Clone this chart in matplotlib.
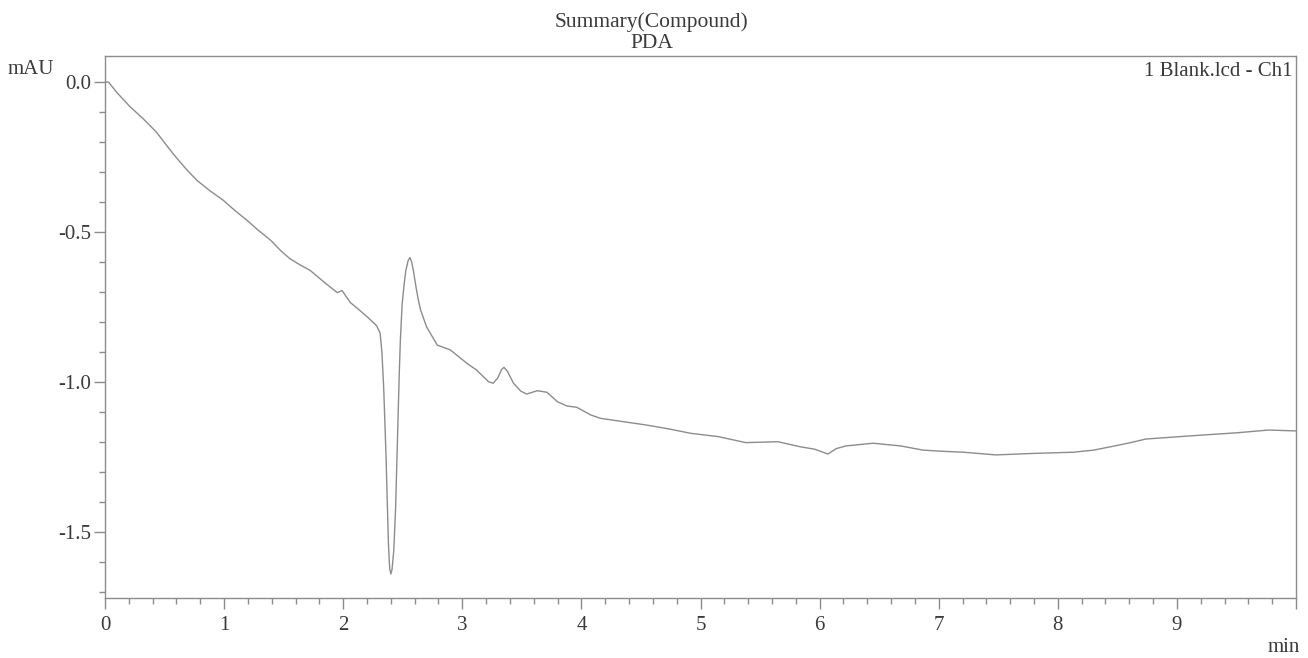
import numpy as np
import matplotlib.pyplot as plt
from matplotlib.ticker import MultipleLocator

# Chromatogram trace (time in min, absorbance in mAU)
time_min = [0.00, 0.03, 0.10, 0.21, 0.32, 0.43, 0.57, 0.67, 0.77, 0.88, 0.99,
            1.09, 1.19, 1.29, 1.39, 1.47, 1.55, 1.64, 1.72, 1.84, 1.95, 1.99,
            2.02, 2.06, 2.13, 2.20, 2.28, 2.31, 2.325, 2.34, 2.36, 2.37, 2.38,
            2.39, 2.40, 2.41, 2.425, 2.44, 2.455, 2.47, 2.48, 2.495, 2.51,
            2.525, 2.545, 2.56, 2.575, 2.59, 2.61, 2.63, 2.65, 2.70, 2.79,
            2.90, 3.04, 3.12, 3.22, 3.26, 3.30, 3.33, 3.35, 3.38, 3.43, 3.49,
            3.54, 3.63, 3.71, 3.80, 3.88, 3.96, 4.08, 4.16, 4.35, 4.54, 4.73,
            4.92, 5.15, 5.38, 5.65, 5.84, 5.96, 6.07, 6.14, 6.22, 6.45, 6.68,
            6.87, 7.04, 7.21, 7.48, 7.79, 8.13, 8.30, 8.44, 8.60, 8.74, 9.13,
            9.51, 9.77, 10.0]
absorbance = [0.000, 0.000, -0.035, -0.082, -0.122, -0.166, -0.238, -0.285,
              -0.327, -0.362, -0.393, -0.428, -0.460, -0.495, -0.527, -0.560,
              -0.588, -0.610, -0.627, -0.667, -0.702, -0.695, -0.712, -0.735,
              -0.758, -0.782, -0.812, -0.837, -0.900, -1.020, -1.250, -1.400,
              -1.540, -1.620, -1.640, -1.625, -1.560, -1.420, -1.200, -0.980,
              -0.860, -0.740, -0.680, -0.630, -0.595, -0.585, -0.600, -0.630,
              -0.680, -0.725, -0.760, -0.816, -0.877, -0.893, -0.938, -0.960,
              -0.999, -1.004, -0.985, -0.958, -0.951, -0.965, -1.004, -1.030,
              -1.040, -1.029, -1.034, -1.066, -1.080, -1.084, -1.110, -1.121,
              -1.132, -1.143, -1.156, -1.171, -1.182, -1.202, -1.199, -1.216,
              -1.224, -1.240, -1.222, -1.213, -1.204, -1.213, -1.227, -1.231,
              -1.234, -1.243, -1.238, -1.234, -1.227, -1.216, -1.203, -1.190,
              -1.179, -1.169, -1.160, -1.163]

x_major = [0, 1, 2, 3, 4, 5, 6, 7, 8, 9, 10]
x_labels = ['0', '1', '2', '3', '4', '5', '6', '7', '8', '9', '']
y_major = [0.0, -0.5, -1.0, -1.5]
y_labels = ['0.0', '-0.5', '-1.0', '-1.5']

plt.rcParams['font.family'] = ['Liberation Serif', 'DejaVu Serif']
gray = '#8c8c8c'
txt = '#3a3a3a'

fig = plt.figure(figsize=(13.08, 6.58), dpi=100)
ax = fig.add_axes([105 / 1308, 1 - 598 / 658, 1191 / 1308, 542 / 658])
ax.plot(time_min, absorbance, color=gray, linewidth=1.0)

ax.set_xlim(0, 10)
ax.set_ylim(-1.72, 0.087)
ax.set_xticks(x_major)
ax.set_xticklabels(x_labels)
ax.set_yticks(y_major)
ax.set_yticklabels(y_labels)
ax.xaxis.set_minor_locator(MultipleLocator(0.2))
ax.yaxis.set_minor_locator(MultipleLocator(0.1))

for s in ax.spines.values():
    s.set_color(gray)
    s.set_linewidth(1.0)
ax.tick_params(which='major', length=8, width=1, color=gray, labelsize=15,
               labelcolor=txt)
ax.tick_params(which='minor', length=4, width=1, color=gray)
ax.tick_params(axis='x', which='major', pad=5)
ax.tick_params(axis='y', which='major', pad=2)

fig.text(652 / 1308, 1 - 22 / 658, 'Summary(Compound)', ha='center',
         va='center', fontsize=15.5, color=txt)
fig.text(652 / 1308, 1 - 44 / 658, 'PDA', ha='center', va='center',
         fontsize=15.5, color=txt)
fig.text(31 / 1308, 1 - 70 / 658, 'mAU', ha='center', va='center',
         fontsize=15, color=txt)
fig.text(1292 / 1308, 1 - 72 / 658, '1 Blank.lcd - Ch1', ha='right',
         va='center', fontsize=15, color=txt)
fig.text(1300 / 1308, 1 - 648 / 658, 'min', ha='right', va='center',
         fontsize=15, color=txt)

fig.savefig('out.png', dpi=100)
